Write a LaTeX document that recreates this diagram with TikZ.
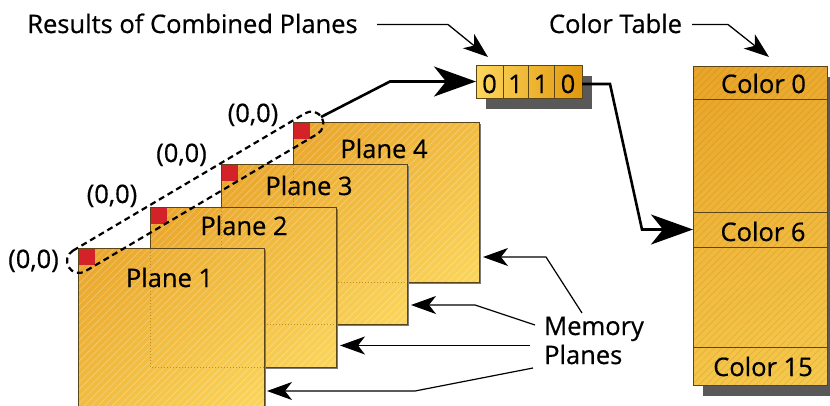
\documentclass[tikz,border=0pt]{standalone}
\usepackage{fontspec}
\setmainfont{Open Sans}[FakeBold=0.6]
\usetikzlibrary{arrows.meta,patterns.meta,calc,shadings}
\definecolor{plDark}{HTML}{E9A42A}
\definecolor{plMid}{HTML}{F1BC42}
\definecolor{plLight}{HTML}{FBD65C}
\definecolor{edgec}{HTML}{5A4418}
\definecolor{redsq}{HTML}{D42229}
\definecolor{shadowgray}{HTML}{595959}
\definecolor{bitLight}{HTML}{FDD65C}
\definecolor{bitDark}{HTML}{E1980E}
\definecolor{tabTop}{HTML}{E9A427}
\definecolor{tabBot}{HTML}{F6C94D}
\definecolor{dotc}{HTML}{C08E2C}
\tikzset{
  lbl/.style={font=\fontsize{25.5}{29}\selectfont, inner sep=0pt, anchor=base, text=black},
  boxnode/.style={inner sep=0pt, outer sep=0pt, anchor=north west},
  planebox/.style={boxnode, minimum width=186pt, minimum height=160pt},
  hatchw/.style={pattern={Lines[angle=45,distance=5pt,line width=0.6pt]}, pattern color=white, opacity=0.3},
  hatchd/.style={pattern={Lines[angle=45,distance=5pt,line width=0.5pt]}, pattern color=edgec, opacity=0.16},
  seethru/.style={dotc, line width=0.6pt, dash pattern=on 0.8pt off 2.2pt},
  thinarrow/.style={line width=1.3pt, -{Stealth[length=25pt,width=18pt,inset=7pt]}},
  thickarrow/.style={line width=2.6pt, -{Stealth[length=42pt,width=30pt,inset=12pt]}},
  capsule/.style={line width=2.2pt, dash pattern=on 6pt off 4pt},
}
\newcommand{\planebody}[3]{%
  \fill[shadowgray!80] (#2+1.6,#3+1.6) rectangle (#2+187.6,#3+161.6);
  \node[planebox] (#1) at (#2,#3) {};
  \shade[upper left=plDark, upper right=plMid, lower left=plMid, lower right=plLight]
    (#1.north west) rectangle (#1.south east);
  \fill[hatchw] (#1.north west) rectangle (#1.south east);
}
\newcommand{\planetop}[4]{%
  \draw[edgec, line width=0.9pt] (#1.north west) rectangle (#1.south east);
  \fill[redsq] ([xshift=0.5pt,yshift=-0.5pt]#1.north west) rectangle ++(16.5,16.5);
  \node[lbl] (#1lab) at (#2,#3) {Plane #4};
}
\begin{document}
\begin{tikzpicture}[x=1pt,y=-1pt]
\useasboundingbox (0,0) rectangle (830,405);

% ---- memory planes (back to front)
\planebody{P4}{293}{122}
\planetop{P4}{384}{158}{4}

\planebody{P3}{221}{164}
\draw[seethru] (293,165) -- (293,282) -- (406.5,282);
\planetop{P3}{309}{195}{3}

\planebody{P2}{150}{207}
\draw[seethru] (221,208) -- (221,324) -- (334.5,324);
\planetop{P2}{244}{235}{2}

\planebody{P1}{78}{248}
\draw[seethru] (150,249) -- (150,367) -- (263.5,367);
\planetop{P1}{169.5}{287}{1}

% ---- origin labels
\node[lbl] (o1) at (33.5,268) {(0,0)};
\node[lbl] (o2) at (112,203) {(0,0)};
\node[lbl] (o3) at (181.5,162) {(0,0)};
\node[lbl] (o4) at (253,122) {(0,0)};

% ---- dashed capsule around the (0,0) pixels
\begin{scope}[shift={(79,261)}, rotate=30.6]
  \draw[capsule] (0,-12) -- (270,-12) arc[start angle=90, end angle=-90, radius=12pt]
    -- (0,12) arc[start angle=-90, end angle=-270, radius=12pt] -- cycle;
\end{scope}
\coordinate (capend) at (321,117);

% ---- combined result bits
\fill[shadowgray] (486,76) rectangle (592,109);
\node[boxnode, minimum width=106pt, minimum height=33pt] (bits) at (476,65) {};
\shade[left color=bitLight, right color=bitDark] (bits.north west) rectangle (bits.south east);
\draw[edgec, line width=1pt] (bits.north west) rectangle (bits.south east);
\draw[edgec, line width=1pt] (503,65) -- (503,98) (528,65) -- (528,98) (554,65) -- (554,98);
\node[lbl] (b1) at (489.5,93) {0};
\node[lbl] (b2) at (515.5,93) {1};
\node[lbl] (b3) at (541,93) {1};
\node[lbl] (b4) at (568,93) {0};

% ---- color table
\fill[shadowgray] (703,77) rectangle (837,396);
\node[boxnode, minimum width=134pt, minimum height=319pt] (ct) at (693,66) {};
\shade[upper left=tabTop, upper right=tabTop!85!tabBot, lower left=tabBot!90!tabTop, lower right=tabBot]
  (ct.north west) rectangle (ct.south east);
\fill[hatchd] (ct.north west) rectangle (ct.south east);
\node[boxnode, draw=edgec, line width=1pt, minimum width=134pt, minimum height=33pt] (c0) at (693,66) {};
\node[boxnode, draw=edgec, line width=1pt, minimum width=134pt, minimum height=35pt] (c6) at (693,212) {};
\node[boxnode, draw=edgec, line width=1pt, minimum width=134pt, minimum height=38pt] (c15) at (693,347) {};
\draw[edgec, line width=1pt] (ct.north west) rectangle (ct.south east);
\node[lbl] (t0) at (763.5,93) {Color 0};
\node[lbl] (t6) at (763,241) {Color 6};
\node[lbl] (t15) at (763,376) {Color 15};

% ---- titles
\node[lbl] (res) at (192.5,33) {Results of Combined Planes};
\node[lbl] (ctl) at (615.5,33) {Color Table};
\coordinate (resstart) at (377,24.5);
\coordinate (ctstart) at (692,24.5);
\draw[thinarrow] (resstart) -- (448,24.5) -- ($(bits.north west)+(12,-8)$);
\draw[thinarrow] (ctstart) -- (728,24.5) -- ($(c0.north west)+(76,-9)$);

% ---- main data flow
\draw[thickarrow] (capend) -- (390,81.5) -- (bits.west);
\coordinate (bitsout) at (582,84);
\draw[thickarrow] (bitsout) -- (610,84) -- (642,229.5) -- (c6.west);

% ---- memory planes label
\node[lbl, anchor=base west] (mem1) at (544,335) {Memory};
\node[lbl, anchor=base west] (mem2) at (544,364) {Planes};
\coordinate (m4) at (582,313);
\coordinate (m3) at (535,325);
\coordinate (m2) at (530,345.5);
\coordinate (m1) at (533,368);
\draw[thinarrow, line width=1.2pt] (m4) -- (546,257) -- ($(P4.east |- 0,257)+(4,0)$);
\draw[thinarrow, line width=1.2pt] (m3) -- (475,305) -- ($(P3.east |- 0,305)+(4,0)$);
\draw[thinarrow, line width=1.2pt] (m2) -- ($(P2.east |- 0,345.5)+(4,0)$);
\draw[thinarrow, line width=1.2pt] (m1) -- (415,391) -- ($(P1.east |- 0,391)+(3,0)$);
\end{tikzpicture}
\end{document}
